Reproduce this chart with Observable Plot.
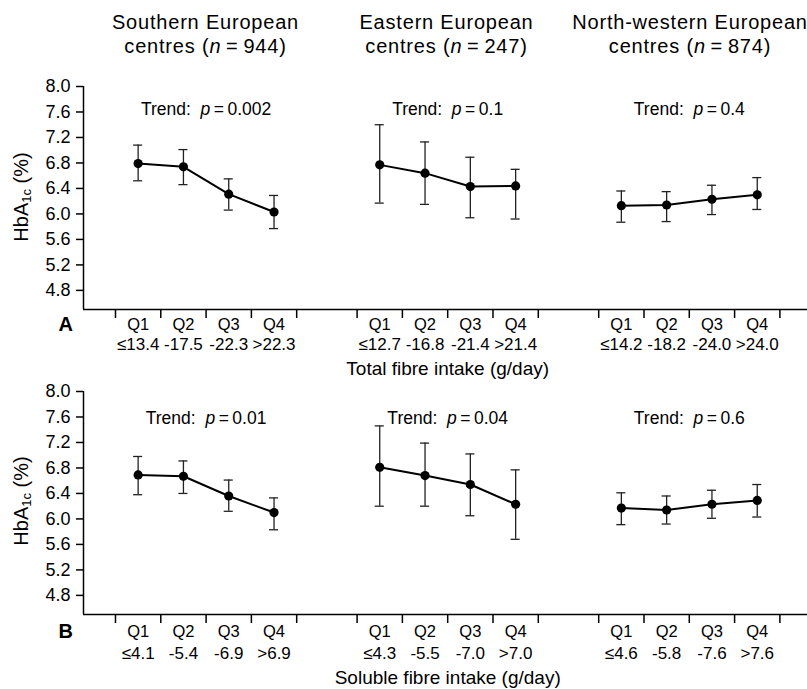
<!DOCTYPE html>
<html>
<head>
<meta charset="utf-8">
<script src="https://cdn.jsdelivr.net/npm/d3@7"></script>
<script src="https://cdn.jsdelivr.net/npm/@observablehq/plot@0.6"></script>
<style>
  html, body { margin: 0; padding: 0; background: #fff; overflow: hidden; }
  #wrap { position: relative; width: 807px; height: 689px; overflow: hidden;
          font-family: "Liberation Sans", Arial, Helvetica, sans-serif; color: #000; }
  .hdr { position: absolute; width: 340px; text-align: center; font-size: 20px; line-height: 24px;
         white-space: nowrap; letter-spacing: 0.8px; }
  .ylab { position: absolute; font-size: 20px; white-space: nowrap;
          transform: translate(-50%, -50%) rotate(-90deg); }
  .ylab sub { font-size: 13px; vertical-align: -3px; line-height: 0; }
  .panel { position: absolute; left: 0; }
</style>
</head>
<body>
<div id="wrap"></div>
<script>
// ---------------- data ----------------
const groupNames = ["Southern European", "Eastern European", "North-western European"];
const groupN = [944, 247, 874];
const quartiles = ["Q1", "Q2", "Q3", "Q4"];
const yTicks = [4.8, 5.2, 5.6, 6.0, 6.4, 6.8, 7.2, 7.6, 8.0];

// Panel A: total fibre
const totalRanges = [["≤13.4", "-17.5", "-22.3", ">22.3"],
                     ["≤12.7", "-16.8", "-21.4", ">21.4"],
                     ["≤14.2", "-18.2", "-24.0", ">24.0"]];
const totalMean = [[6.79, 6.74, 6.31, 6.03], [6.77, 6.64, 6.43, 6.44], [6.13, 6.14, 6.23, 6.30]];
const totalLo   = [[6.52, 6.46, 6.06, 5.77], [6.17, 6.15, 5.94, 5.92], [5.87, 5.88, 5.99, 6.07]];
const totalHi   = [[7.08, 7.01, 6.55, 6.29], [7.40, 7.13, 6.89, 6.70], [6.36, 6.35, 6.45, 6.57]];
const totalP    = ["0.002", "0.1", "0.4"];

// Panel B: soluble fibre
const solubleRanges = [["≤4.1", "-5.4", "-6.9", ">6.9"],
                       ["≤4.3", "-5.5", "-7.0", ">7.0"],
                       ["≤4.6", "-5.8", "-7.6", ">7.6"]];
const solubleMean = [[6.69, 6.67, 6.36, 6.10], [6.81, 6.68, 6.54, 6.23], [6.17, 6.14, 6.23, 6.29]];
const solubleLo   = [[6.38, 6.40, 6.12, 5.83], [6.20, 6.20, 6.05, 5.68], [5.91, 5.92, 6.01, 6.03]];
const solubleHi   = [[6.98, 6.91, 6.61, 6.33], [7.46, 7.19, 7.02, 6.77], [6.41, 6.36, 6.45, 6.54]];
const solubleP    = ["0.01", "0.04", "0.6"];

// ---------------- layout ----------------
const S = 16 / 3;              // spacing between group starts, in quartile units
const xMin = -0.706, xMax = 15.276;
const cap = 0.1;               // error-bar cap half width (x units)
const bounds = [];
for (let g = 0; g < 3; g++) for (let k = 0; k <= 4; k++) bounds.push(g * S + k);
const groupCenter = g => g * S + 2;

const FONT = '"Liberation Sans", Arial, Helvetica, sans-serif';
const wrap = document.getElementById("wrap");

// headers
const hdrX = [205.5, 446.5, 690];
groupNames.forEach((name, i) => {
  const d = document.createElement("div");
  d.className = "hdr";
  d.style.left = (hdrX[i] - 170) + "px";
  d.style.top = "10px";
  d.innerHTML = name + "<br>centres (<i>n</i>\u2009=\u2009" + groupN[i] + ")";
  wrap.appendChild(d);
});

function makePanel(cfg) {
  const rows = [];
  for (let g = 0; g < 3; g++) for (let q = 0; q < 4; q++) {
    rows.push({g, x: g * S + q + 0.5, mean: cfg.mean[g][q], lo: cfg.lo[g][q], hi: cfg.hi[g][q],
               ql: quartiles[q], range: cfg.ranges[g][q]});
  }
  const trends = cfg.p.map((p, g) => ({g, p}));
  const plot = Plot.plot({
    width: 807, height: cfg.height,
    marginLeft: 83, marginRight: 0, marginTop: cfg.marginTop, marginBottom: cfg.marginBottom,
    x: {domain: [xMin, xMax], axis: null},
    y: {domain: [4.5, 8.0], axis: null},
    style: {fontFamily: FONT, fontSize: "16px", color: "#000", background: "transparent", overflow: "visible"},
    marks: [
      Plot.ruleY([4.5], {stroke: "#000", strokeWidth: 1.5}),
      Plot.ruleX([xMin], {y1: 4.5, y2: 8.0, stroke: "#000", strokeWidth: 1.5}),
      Plot.axisX(bounds, {tickSize: 9, tickFormat: () => "", strokeWidth: 1.5, label: null}),
      Plot.axisY(yTicks, {tickSize: 7, tickPadding: 6, tickFormat: d3.format(".1f"), fontSize: 18, strokeWidth: 1.5, label: null}),
      Plot.ruleX(rows, {x: "x", y1: "lo", y2: "hi", stroke: "#222", strokeWidth: 1.3}),
      Plot.ruleY(rows, {x1: d => d.x - cap, x2: d => d.x + cap, y: "lo", stroke: "#222", strokeWidth: 1.3}),
      Plot.ruleY(rows, {x1: d => d.x - cap, x2: d => d.x + cap, y: "hi", stroke: "#222", strokeWidth: 1.3}),
      Plot.line(rows, {x: "x", y: "mean", z: "g", stroke: "#000", strokeWidth: 2}),
      Plot.dot(rows, {x: "x", y: "mean", r: 4.6, fill: "#000", stroke: "none"}),
      Plot.text(trends, {x: d => groupCenter(d.g), frameAnchor: "top", dy: cfg.trendDy,
                         text: d => "Trend:\u00a0 p\u2009=\u2009" + d.p, fontSize: 17.5}),
      Plot.text(rows, {x: "x", text: "ql", frameAnchor: "bottom", dy: cfg.qDy, fontSize: 16.5}),
      Plot.text(rows, {x: "x", text: "range", frameAnchor: "bottom", dy: cfg.rDy, fontSize: 17}),
      Plot.text([cfg.xlabel], {x: () => groupCenter(1), frameAnchor: "bottom", dy: cfg.lDy, fontSize: 19}),
      Plot.text([cfg.letter], {frameAnchor: "bottom-left", dx: -25, dy: cfg.qDy + 1, fontSize: 20, fontWeight: "bold"})
    ]
  });
  // italicise the "p" of the trend labels
  d3.select(plot).selectAll("text")
    .filter(function () { return this.textContent.startsWith("Trend:"); })
    .each(function () {
      const t = this.textContent;
      const i = t.indexOf("p\u2009");
      const sel = d3.select(this);
      sel.text(null);
      sel.append("tspan").text(t.slice(0, i));
      sel.append("tspan").attr("font-style", "italic").style("font-style", "italic").text("p");
      sel.append("tspan").text(t.slice(i + 1));
    });
  const holder = document.createElement("div");
  holder.className = "panel";
  holder.style.top = cfg.top + "px";
  holder.appendChild(plot);
  wrap.appendChild(holder);

  const yl = document.createElement("div");
  yl.className = "ylab";
  yl.style.left = "21px";
  yl.style.top = cfg.ylabY + "px";
  yl.innerHTML = "HbA<sub>1c</sub> (%)";
  wrap.appendChild(yl);
}

makePanel({mean: totalMean, lo: totalLo, hi: totalHi, ranges: totalRanges, p: totalP,
           xlabel: "Total fibre intake (g/day)", letter: "A",
           top: 60, height: 330, marginTop: 26, marginBottom: 81, trendDy: 16, ylabY: 197,
           qDy: 20, rDy: 40, lDy: 65});
makePanel({mean: solubleMean, lo: solubleLo, hi: solubleHi, ranges: solubleRanges, p: solubleP,
           xlabel: "Soluble fibre intake (g/day)", letter: "B",
           top: 385, height: 304, marginTop: 6, marginBottom: 75, trendDy: 20, ylabY: 501,
           qDy: 22, rDy: 44, lDy: 69});
</script>
</body>
</html>
